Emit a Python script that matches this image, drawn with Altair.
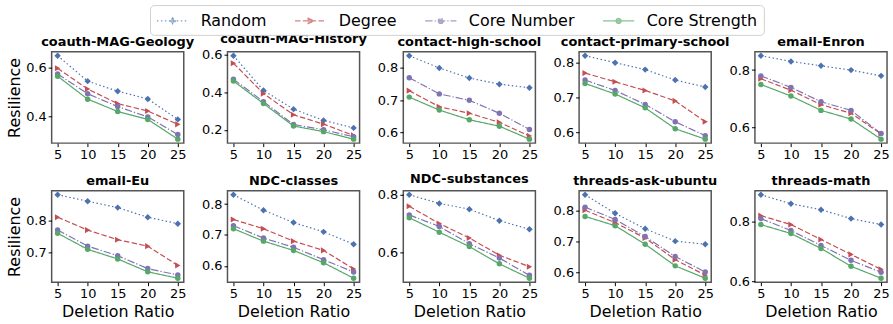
import altair as alt
import pandas as pd

ratios = [5, 10, 15, 20, 25]
datasets = ["coauth-MAG-Geology", "coauth-MAG-History", "contact-high-school",
            "contact-primary-school", "email-Enron", "email-Eu", "NDC-classes",
            "NDC-substances", "threads-ask-ubuntu", "threads-math"]
methods = ["Random", "Degree", "Core Number", "Core Strength"]

random_vals = [
    [0.647, 0.544, 0.503, 0.472, 0.389],
    [0.595, 0.41, 0.31, 0.25, 0.21],
    [0.838, 0.80, 0.769, 0.75, 0.739],
    [0.82, 0.80, 0.78, 0.75, 0.73],
    [0.85, 0.83, 0.815, 0.80, 0.78],
    [0.88, 0.86, 0.84, 0.81, 0.79],
    [0.83, 0.78, 0.74, 0.71, 0.67],
    [0.80, 0.77, 0.75, 0.71, 0.68],
    [0.85, 0.79, 0.74, 0.70, 0.69],
    [0.89, 0.86, 0.84, 0.81, 0.79],
]
degree_vals = [
    [0.596, 0.512, 0.453, 0.423, 0.369],
    [0.555, 0.393, 0.28, 0.23, 0.17],
    [0.73, 0.68, 0.66, 0.632, 0.59],
    [0.77, 0.745, 0.72, 0.69, 0.63],
    [0.77, 0.73, 0.68, 0.65, 0.578],
    [0.81, 0.77, 0.74, 0.72, 0.66],
    [0.75, 0.72, 0.68, 0.65, 0.59],
    [0.76, 0.70, 0.65, 0.59, 0.55],
    [0.80, 0.76, 0.71, 0.64, 0.59],
    [0.82, 0.79, 0.74, 0.69, 0.64],
]
core_number_vals = [
    [0.573, 0.493, 0.441, 0.399, 0.328],
    [0.47, 0.35, 0.228, 0.20, 0.163],
    [0.77, 0.72, 0.70, 0.66, 0.61],
    [0.75, 0.72, 0.68, 0.63, 0.59],
    [0.78, 0.74, 0.69, 0.66, 0.58],
    [0.77, 0.72, 0.69, 0.65, 0.63],
    [0.73, 0.69, 0.66, 0.62, 0.58],
    [0.73, 0.69, 0.63, 0.58, 0.52],
    [0.81, 0.77, 0.715, 0.65, 0.60],
    [0.81, 0.77, 0.72, 0.67, 0.63],
]
core_strength_vals = [
    [0.564, 0.471, 0.421, 0.389, 0.309],
    [0.46, 0.34, 0.22, 0.19, 0.15],
    [0.71, 0.67, 0.64, 0.62, 0.58],
    [0.74, 0.71, 0.67, 0.61, 0.58],
    [0.75, 0.71, 0.66, 0.63, 0.56],
    [0.76, 0.71, 0.68, 0.64, 0.62],
    [0.72, 0.68, 0.65, 0.61, 0.56],
    [0.72, 0.67, 0.62, 0.56, 0.51],
    [0.78, 0.75, 0.69, 0.62, 0.58],
    [0.79, 0.76, 0.71, 0.65, 0.61],
]
y_ticks = [[0.4, 0.6], [0.2, 0.4, 0.6], [0.6, 0.7, 0.8], [0.6, 0.7, 0.8], [0.6, 0.8],
           [0.7, 0.8], [0.6, 0.7, 0.8], [0.6, 0.8], [0.6, 0.7, 0.8], [0.6, 0.8]]

colors = ["#4C72B0", "#C44E52", "#8172B3", "#55A868"]
dashes = [[1.5, 2.5], [5.5, 2.4], [7.5, 2.0, 1.3, 2.0], [1, 0]]
point_shapes = ["diamond", "triangle-right", "circle", "circle"]
point_sizes = [42, 38, 30, 30]
legend_paths = [
    "M-1,0H2.5M0.75,-0.34L1.09,0L0.75,0.34L0.41,0Z",
    "M-1,0H2.5M0.47,-0.3L1.1,0L0.47,0.3Z",
    "M-1,0H2.5M0.47,0A0.28,0.28 0 1,0 1.03,0A0.28,0.28 0 1,0 0.47,0Z",
    "M-1,0H2.5M0.47,0A0.28,0.28 0 1,0 1.03,0A0.28,0.28 0 1,0 0.47,0Z",
]
series = [random_vals, degree_vals, core_number_vals, core_strength_vals]

FONT = "DejaVu Sans"
color_scale = alt.Scale(domain=methods, range=colors)
dash_scale = alt.Scale(domain=methods, range=dashes)


def panel(i):
    row, col = divmod(i, 5)
    rows = []
    for m, vals in zip(methods, series):
        for r, v in zip(ratios, vals[i]):
            rows.append({"ratio": r, "value": v, "method": m})
    df = pd.DataFrame(rows)
    base = alt.Chart(df)
    x = alt.X("ratio:Q",
              scale=alt.Scale(domain=[5, 25], padding=6, nice=False, zero=False),
              axis=alt.Axis(values=ratios, title="Deletion Ratio" if row == 1 else "",
                            titleFontSize=16, titleFontWeight="normal", titlePadding=3))
    y = alt.Y("value:Q",
              scale=alt.Scale(zero=False, nice=False, padding=4),
              axis=alt.Axis(values=y_ticks[i], format=".1f",
                            title="Resilience" if col == 0 else "",
                            titleFontSize=16, titleFontWeight="normal", titlePadding=3))
    layers = []
    if i == 0:
        leg = alt.Legend(title=None, orient="none", direction="horizontal",
                         legendX=99, legendY=-47, labelFont=FONT, labelFontSize=16,
                         labelColor="black", symbolSize=324, symbolStrokeWidth=1.2,
                         labelOffset=25, columnPadding=25, padding=6,
                         strokeColor="#d0d0d0", fillColor="white", cornerRadius=4)
        legend_layer = base.mark_point(
            filled=False, strokeWidth=1.2, size=0
        ).encode(
            x=x, y=y,
            color=alt.Color("method:N", scale=color_scale, legend=leg),
            fill=alt.Fill("method:N", scale=alt.Scale(domain=methods, range=colors), legend=leg),
            shape=alt.Shape("method:N", scale=alt.Scale(domain=methods, range=legend_paths), legend=leg),
            strokeDash=alt.StrokeDash("method:N", scale=dash_scale, legend=leg),
        )
        layers.append(legend_layer)
    lines = base.mark_line(strokeWidth=1.2).encode(
        x=x, y=y,
        color=alt.Color("method:N", scale=color_scale, legend=None),
        strokeDash=alt.StrokeDash("method:N", scale=dash_scale, legend=None),
    )
    layers.append(lines)
    for m, c, s, sz in zip(methods, colors, point_shapes, point_sizes):
        layers.append(
            base.transform_filter(alt.datum.method == m)
            .mark_point(shape=s, filled=True, size=sz, color=c, opacity=1)
            .encode(x=x, y=y)
        )
    return alt.layer(*layers).properties(
        width=133, height=92,
        title=alt.TitleParams(datasets[i], fontSize=13, fontWeight="bold", font=FONT,
                              color="black", offset=3),
    )


chart = alt.concat(*[panel(i) for i in range(10)], columns=5,
                   spacing={"row": 48, "column": 44},
                   bounds="flush").properties(
    padding={"left": 6, "top": 3, "right": 2, "bottom": 2}
).configure_view(
    stroke="#555555", strokeWidth=1.5
).configure_axis(
    labelFont=FONT, titleFont=FONT, labelFontSize=13, labelColor="black",
    titleColor="black", tickColor="black", tickSize=3.5, labelPadding=2,
    grid=False, domain=False
).configure_title(anchor="middle")

chart.save("out.html", embed_options={"renderer": "svg", "actions": False})
